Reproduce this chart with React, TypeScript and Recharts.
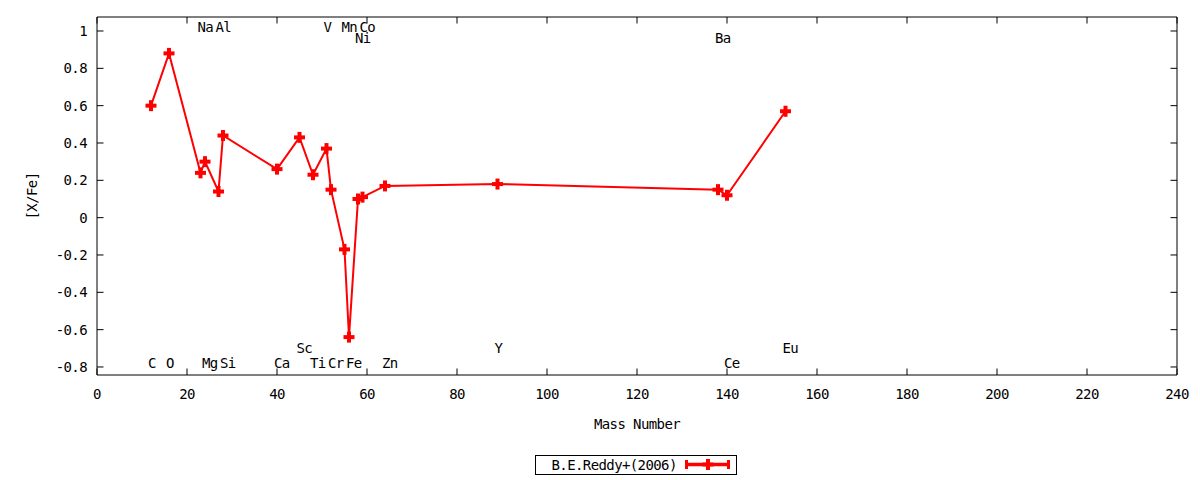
import React from 'react';
import { ComposedChart, Line, Scatter, XAxis, YAxis, ReferenceLine, ReferenceArea } from 'recharts';

// ---- data ----
const elements = ['C', 'O', 'Na', 'Mg', 'Al', 'Si', 'Ca', 'Sc', 'Ti', 'V', 'Cr', 'Mn', 'Fe', 'Ni', 'Co', 'Zn', 'Y', 'Ba', 'Ce', 'Eu'];
const massNumbers = [12, 16, 23, 24, 27, 28, 40, 45, 48, 51, 52, 55, 56, 58, 59, 64, 89, 138, 140, 153];
const xFeValues = [0.60, 0.88, 0.24, 0.30, 0.14, 0.44, 0.26, 0.43, 0.23, 0.37, 0.15, -0.17, -0.64, 0.10, 0.11, 0.17, 0.18, 0.15, 0.12, 0.57];

const labelNames = ['C', 'O', 'Na', 'Mg', 'Al', 'Si', 'Ca', 'Sc', 'Ti', 'V', 'Cr', 'Mn', 'Fe', 'Ni', 'Co', 'Zn', 'Y', 'Ba', 'Ce', 'Eu'];
const labelMass = [12, 16, 23, 24, 27, 28, 40, 45, 48, 51, 52, 55, 56, 58, 59, 64, 89, 138, 140, 153];
const labelYValues = [-0.78, -0.78, 1.02, -0.78, 1.02, -0.78, -0.78, -0.70, -0.78, 1.02, -0.78, 1.02, -0.78, 0.965, 1.02, -0.78, -0.70, 0.965, -0.78, -0.70];

const xTicks = [0, 20, 40, 60, 80, 100, 120, 140, 160, 180, 200, 220, 240];
const yTicks = [-0.8, -0.6, -0.4, -0.2, 0, 0.2, 0.4, 0.6, 0.8, 1];
const xDomain: [number, number] = [0, 240];
const yDomain: [number, number] = [-0.843, 1.075];

const seriesName = 'B.E.Reddy+(2006)';
const xLabel = 'Mass Number';
const yLabel = '[X/Fe]';

const points = massNumbers.map((m, i) => ({ mass: m, v: xFeValues[i], name: elements[i] }));
const labelPoints = labelNames.map((n, i) => ({ mass: labelMass[i], v: labelYValues[i], name: n }));

// ---- style ----
const RED = '#ff0000';
const FONT = "'DejaVu Sans Mono', monospace";
const FS = 14;
const LS = -0.6;
const W = 1200;
const H = 480;
const M = { top: 17, right: 23, bottom: 0, left: 0 };
const YW = 97;
const XH = 105;
const PLOT_L = M.left + YW;
const PLOT_R = W - M.right;
const PLOT_T = M.top;
const PLOT_B = H - M.bottom - XH;
const TICK_PX = 6.5;
const xUnitPx = (PLOT_R - PLOT_L) / (xDomain[1] - xDomain[0]);
const yUnitPx = (PLOT_B - PLOT_T) / (yDomain[1] - yDomain[0]);
const tickDX = TICK_PX / xUnitPx;
const tickDY = TICK_PX / yUnitPx;

const fmtY = (v: number) => String(Number(v.toFixed(1)));

const PlusMark = ({ cx, cy }: { cx: number; cy: number }) => (
  <g>
    <rect x={cx - 5.5} y={cy - 2} width={11} height={4} fill={RED} />
    <rect x={cx - 2} y={cy - 5.5} width={4} height={11} fill={RED} />
  </g>
);

const XTick = (props: any) => {
  const { x, y, payload } = props;
  return (
    <text x={x} y={y + 19} textAnchor="middle" dominantBaseline="central" fontFamily={FONT} fontSize={FS} letterSpacing={LS} fill="#000">
      {payload.value}
    </text>
  );
};

const YTick = (props: any) => {
  const { x, y, payload } = props;
  return (
    <text x={x - 10} y={y} textAnchor="end" dominantBaseline="central" fontFamily={FONT} fontSize={FS} letterSpacing={LS} fill="#000">
      {fmtY(payload.value)}
    </text>
  );
};

const ElementLabel = (props: any) => {
  const { cx, cy, payload } = props;
  if (cx == null || cy == null) return <g />;
  return (
    <text x={cx - 3} y={cy} textAnchor="start" dominantBaseline="central" fontFamily={FONT} fontSize={FS} letterSpacing={LS} fill="#000">
      {payload.name}
    </text>
  );
};

export default function App() {
  return (
    <div style={{ position: 'absolute', left: 0, top: 0, width: W, height: H, background: '#fff' }}>
      <ComposedChart width={W} height={H} margin={M}>
        <XAxis
          type="number"
          dataKey="mass"
          domain={xDomain}
          ticks={xTicks}
          allowDataOverflow
          height={XH}
          tickSize={0}
          tickMargin={0}
          tickLine={false}
          axisLine={false}
          tick={<XTick />}
          interval={0}
        />
        <YAxis
          type="number"
          dataKey="v"
          domain={yDomain}
          ticks={yTicks}
          allowDataOverflow
          width={YW}
          tickSize={0}
          tickMargin={0}
          tickLine={false}
          axisLine={false}
          tick={<YTick />}
          interval={0}
        />
        <ReferenceArea x1={xDomain[0]} x2={xDomain[1]} y1={yDomain[0]} y2={yDomain[1]} fill="none" fillOpacity={0} stroke="#000" strokeWidth={1} ifOverflow="visible" />
        {xTicks.map((t) => (
          <ReferenceLine key={'xb' + t} segment={[{ x: t, y: yDomain[0] }, { x: t, y: yDomain[0] + tickDY }]} stroke="#000" strokeWidth={1} ifOverflow="visible" />
        ))}
        {xTicks.map((t) => (
          <ReferenceLine key={'xt' + t} segment={[{ x: t, y: yDomain[1] }, { x: t, y: yDomain[1] - tickDY }]} stroke="#000" strokeWidth={1} ifOverflow="visible" />
        ))}
        {yTicks.map((t) => (
          <ReferenceLine key={'yl' + t} segment={[{ x: xDomain[0], y: t }, { x: xDomain[0] + tickDX, y: t }]} stroke="#000" strokeWidth={1} ifOverflow="visible" />
        ))}
        {yTicks.map((t) => (
          <ReferenceLine key={'yr' + t} segment={[{ x: xDomain[1], y: t }, { x: xDomain[1] - tickDX, y: t }]} stroke="#000" strokeWidth={1} ifOverflow="visible" />
        ))}
        <Scatter data={labelPoints} dataKey="v" shape={<ElementLabel />} isAnimationActive={false} legendType="none" />
        <Line
          data={points}
          dataKey="v"
          stroke={RED}
          strokeWidth={2}
          isAnimationActive={false}
          dot={(p: any) => <PlusMark key={'d' + p.index} cx={p.cx} cy={p.cy} />}
          activeDot={false}
        />
      </ComposedChart>
      <svg width={W} height={H} style={{ position: 'absolute', left: 0, top: 0, pointerEvents: 'none' }}>
        <text
          x={32}
          y={(PLOT_T + PLOT_B) / 2}
          transform={`rotate(-90 32 ${(PLOT_T + PLOT_B) / 2})`}
          textAnchor="middle"
          dominantBaseline="central"
          fontFamily={FONT}
          fontSize={FS}
          letterSpacing={LS}
          fill="#000"
        >
          {yLabel}
        </text>
        <text x={(PLOT_L + PLOT_R) / 2} y={424} textAnchor="middle" dominantBaseline="central" fontFamily={FONT} fontSize={FS} letterSpacing={LS} fill="#000">
          {xLabel}
        </text>
        <rect x={535.5} y={455.5} width={201} height={19} fill="#fff" stroke="#000" strokeWidth={1} />
        <text x={551.5} y={465} textAnchor="start" dominantBaseline="central" fontFamily={FONT} fontSize={FS} letterSpacing={LS} fill="#000">
          {seriesName}
        </text>
        <line x1={686} y1={464.5} x2={730} y2={464.5} stroke={RED} strokeWidth={3.5} />
        <rect x={685} y={460} width={3} height={9} fill={RED} />
        <rect x={727} y={460} width={3} height={9} fill={RED} />
        <PlusMark cx={708} cy={464.5} />
      </svg>
    </div>
  );
}
